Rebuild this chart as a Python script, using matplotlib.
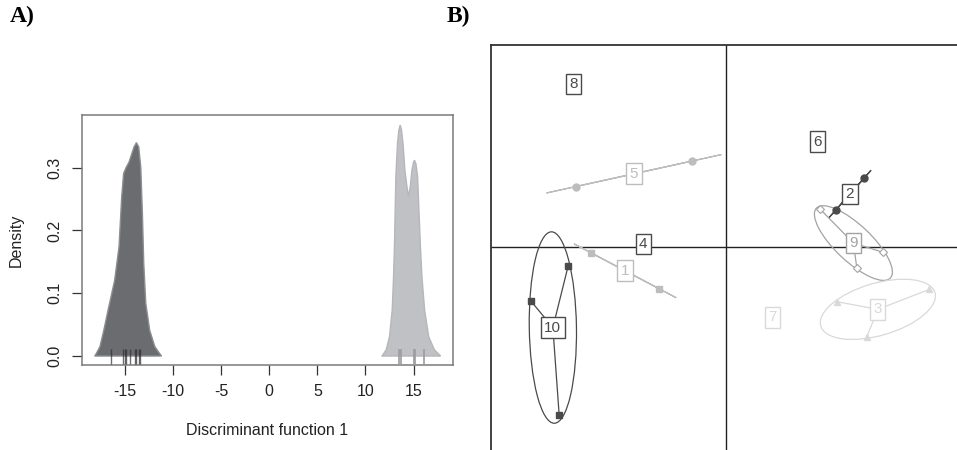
import numpy as np
import matplotlib
matplotlib.use("Agg")
import matplotlib.pyplot as plt
from matplotlib.patches import Ellipse

plt.rcParams['font.family'] = ['Liberation Sans', 'DejaVu Sans']
plt.rcParams['axes.unicode_minus'] = False

# ---- panel A: density of discriminant function 1
dark_x = [-18.15, -17.98, -17.6, -17.2, -16.83, -16.6, -16.07, -15.62, -15.34, -15.14,
          -14.86, -14.58, -14.34, -14.06, -13.81, -13.57, -13.36, -13.19, -13.05, -12.84,
          -12.43, -11.9, -11.4, -11.2]
dark_y = [0.0, 0.004, 0.015, 0.041, 0.068, 0.084, 0.121, 0.174, 0.254, 0.291,
          0.301, 0.309, 0.32, 0.333, 0.34, 0.333, 0.301, 0.227, 0.148, 0.084,
          0.041, 0.015, 0.004, 0.0]
light_x = [11.7, 11.81, 12.16, 12.5, 12.78, 12.92, 13.02, 13.09, 13.16, 13.33, 13.47,
           13.61, 13.75, 13.9, 14.1, 14.31, 14.48, 14.66, 14.83, 15.0, 15.1, 15.25,
           15.42, 15.56, 15.7, 15.87, 16.15, 16.57, 17.16, 17.68, 17.8]
light_y = [0.0, 0.002, 0.01, 0.031, 0.073, 0.126, 0.179, 0.232, 0.286, 0.339, 0.36,
           0.368, 0.36, 0.339, 0.296, 0.27, 0.254, 0.27, 0.296, 0.309, 0.312, 0.306,
           0.286, 0.232, 0.179, 0.126, 0.073, 0.031, 0.01, 0.002, 0.0]
dark_rug = [-16.49, -15.2, -15.03, -14.85, -14.51, -13.99, -13.81, -13.54, -13.39]
light_rug = [13.44, 13.65, 15.0, 15.18, 16.1]

# ---- panel B: scatter of the groups (scores)
group_names = ['10', '1', '5', '2', '9', '3', '8', '6', '4', '7']
group_x = [[-7.89, -9.74, -8.34], [-6.75, -3.34], [-7.52, -1.69], [6.9, 5.49],
           [4.7, 7.87, 6.54], [5.57, 10.17, 7.04], [-7.64], [4.57], [-4.14], [2.32]]
group_y = [[-0.94, -2.72, -8.42], [-0.29, -2.09], [3.02, 4.3], [3.44, 1.85],
           [1.9, -0.27, -1.04], [-2.74, -2.12, -4.49], [8.15], [5.27], [0.15], [-3.52]]
group_col = ['#4a4a4a', '#bdbdbd', '#bdbdbd', '#4a4a4a', '#a3a3a3', '#d9d9d9',
             '#4a4a4a', '#4a4a4a', '#4a4a4a', '#d9d9d9']
group_marker = ['s', 's', 'o', 'o', 'D', '^', 's', 's', 's', 's']

fig = plt.figure(figsize=(9.57, 4.5), dpi=100)

# panel A
ax = fig.add_axes([81.7 / 957, 85 / 450, 371.3 / 957, 250 / 450])
ax.fill(dark_x, dark_y, facecolor='#6b6c6f', edgecolor='#8d8e91', lw=1.0, zorder=2)
ax.fill(light_x, light_y, facecolor='#c0c1c4', edgecolor='#b6b7ba', lw=1.0, zorder=2)
ax.vlines(dark_rug, -0.012, 0.011, colors='#2e2e2e', lw=1.0, alpha=0.7, zorder=3)
ax.vlines(light_rug, -0.012, 0.011, colors='#9c9c9c', lw=1.2, zorder=3)
ax.set_xlim(-19.5, 19.1)
ax.set_ylim(-0.0143, 0.384)
ax.set_xticks([-15, -10, -5, 0, 5, 10, 15])
ax.set_yticks([0.0, 0.1, 0.2, 0.3])
ax.set_yticklabels(['0.0', '0.1', '0.2', '0.3'], rotation=90, va='center')
ax.tick_params(direction='out', length=7, width=0.9, color='#333333',
               labelsize=11.5, pad=7, labelcolor='#222222')
for s in ax.spines.values():
    s.set_color('#7a7a7a')
    s.set_linewidth(1.1)
ax.set_xlabel('Discriminant function 1', fontsize=11.5, labelpad=17, color='#222222')
ax.set_ylabel('Density', fontsize=11.5, labelpad=17, color='#222222')

# panel B (frame runs past the right and bottom edge of the figure)
bx = fig.add_axes([491 / 957, -7 / 450, 475 / 957, 412 / 450])
bx.set_xlim(-11.75, 12.0)
bx.set_ylim(-10.5, 10.1)
bx.set_xticks([])
bx.set_yticks([])
for s in bx.spines.values():
    s.set_color('#333333')
    s.set_linewidth(1.3)
bx.axhline(0, color='#222222', lw=1.0, zorder=1)
bx.axvline(0, color='#222222', lw=1.0, zorder=1)

for name, xs, ys, col, mk in zip(group_names, group_x, group_y, group_col, group_marker):
    xs = np.array(xs)
    ys = np.array(ys)
    cx, cy = xs.mean(), ys.mean()
    if len(xs) > 1:
        # 1.5 sd ellipse from the covariance of the group
        cov = np.cov(np.vstack([xs, ys]), bias=True)
        vals, vecs = np.linalg.eigh(cov)
        vals = np.clip(vals, 0, None)
        ang = np.degrees(np.arctan2(vecs[1, 1], vecs[0, 1]))
        bx.add_patch(Ellipse((cx, cy), 2 * 1.5 * np.sqrt(vals[1]), 2 * 1.5 * np.sqrt(vals[0]),
                             angle=ang, fill=False, edgecolor=col, lw=0.9, zorder=2))
        for px, py in zip(xs, ys):
            bx.plot([cx, px], [cy, py], color=col, lw=0.9, zorder=2)
        if mk == 'D':
            bx.plot(xs, ys, mk, ms=4, mfc='white', mec=col, mew=0.8, zorder=3)
        else:
            bx.plot(xs, ys, mk, ms=5 if mk == 'o' else 4, color=col, zorder=3)
    bx.text(cx, cy, name, ha='center', va='center', fontsize=11, color=col, zorder=5,
            bbox=dict(boxstyle='square,pad=0.22', fc='white', ec=col, lw=1.0))

fig.text(10 / 957, 1 - 16 / 450, 'A)', family='Liberation Serif', weight='bold',
         fontsize=17, va='center', ha='left')
fig.text(447 / 957, 1 - 16 / 450, 'B)', family='Liberation Serif', weight='bold',
         fontsize=17, va='center', ha='left')

fig.savefig('out.png', dpi=100)
